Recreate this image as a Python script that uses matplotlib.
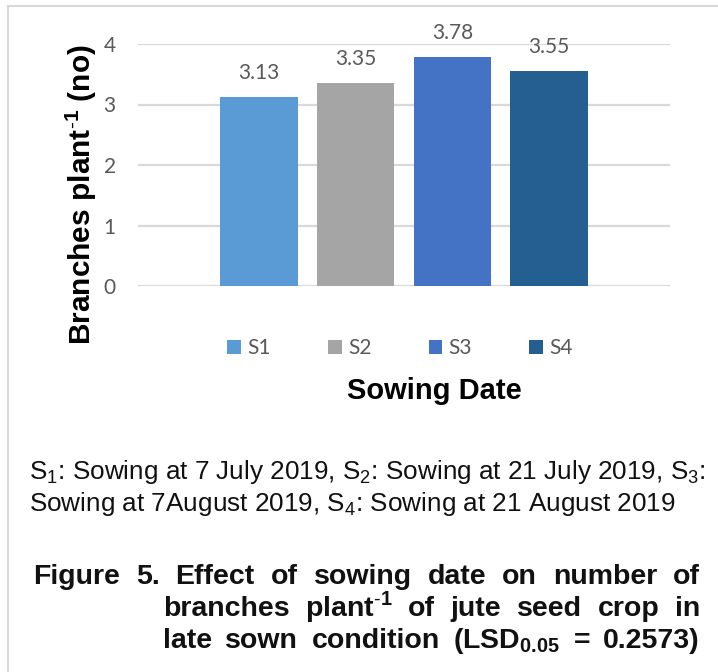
import matplotlib

matplotlib.use("Agg")
import matplotlib.pyplot as plt  # noqa: E402
from matplotlib.lines import Line2D  # noqa: E402
from matplotlib.patches import Patch  # noqa: E402

series = ["S1", "S2", "S3", "S4"]
branches = [3.13, 3.35, 3.78, 3.55]
bar_colors = ["#5B9BD5", "#A5A5A5", "#4472C4", "#255E91"]
y_ticks = [0, 1, 2, 3, 4]

caption_lines = [
    "S$_1$: Sowing at 7 July 2019, S$_2$: Sowing at 21 July 2019, S$_3$:",
    "Sowing at 7August 2019, S$_4$: Sowing at 21 August 2019",
]
title_lines = [
    "Figure 5. Effect of sowing date on number of",
    r"branches plant$^{\mathbf{\text{-}1}}$ of jute seed crop in",
    r"late sown condition (LSD$_{\mathbf{0.05}}$ = 0.2573)",
]

CHART_FONT = ["Lato", "DejaVu Sans"]
ARIAL = ["Liberation Sans", "DejaVu Sans"]
GREY_TEXT = "#595959"

plt.rcParams["mathtext.fontset"] = "custom"
plt.rcParams["mathtext.rm"] = "Liberation Sans"
plt.rcParams["mathtext.bf"] = "Liberation Sans:bold"

W, H = 718, 672
fig = plt.figure(figsize=(W / 100, H / 100), dpi=100)


def fx(px):
    return px / W


def fy(py):
    return 1 - py / H


# thin frame round the figure panel
fig.add_artist(Line2D([fx(8), fx(8)], [0, fy(6)], color="#D9D9D9", lw=1.5))
fig.add_artist(Line2D([fx(8), 1], [fy(6), fy(6)], color="#D9D9D9", lw=1.5))

ax = fig.add_axes([fx(138), fy(286), fx(670) - fx(138), fy(44) - fy(286)])
positions = list(range(len(series)))
bars = ax.bar(positions, branches, width=0.8, color=bar_colors, zorder=3)
ax.set_xlim(-1.25, 4.25)
ax.set_ylim(0, 4)
ax.set_yticks(y_ticks)
ax.set_xticks([])
ax.grid(axis="y", color="#D9D9D9", lw=1.6, zorder=0)
ax.set_axisbelow(True)
for spine in ax.spines.values():
    spine.set_visible(False)
ax.tick_params(axis="y", length=0, pad=16, labelcolor=GREY_TEXT)
for lbl in ax.get_yticklabels():
    lbl.set_fontfamily(CHART_FONT)
    lbl.set_fontsize(15)

for bar, val in zip(bars, branches):
    ax.annotate(f"{val:.2f}", (bar.get_x() + bar.get_width() / 2, val),
                xytext=(0, 10), textcoords="offset points", ha="center",
                va="bottom", fontsize=15, family=CHART_FONT, color=GREY_TEXT,
                annotation_clip=False)

fig.text(fx(81), fy(195), r"Branches plant$^{\mathbf{\text{-}1}}$ (no)",
         rotation=90, ha="center", va="center", fontsize=21.5,
         fontweight="bold", family=ARIAL)

handles = [Patch(facecolor=c, edgecolor="none") for c in bar_colors]
fig.legend(handles, series, loc="center", bbox_to_anchor=(fx(400), fy(348.5)),
           ncol=4, frameon=False, handlelength=0.65, handleheight=0.65,
           handletextpad=0.3, columnspacing=2.75,
           prop={"family": CHART_FONT, "size": 15}, labelcolor=GREY_TEXT)

fig.text(fx(434.5), fy(391), "Sowing Date", ha="center", va="center",
         fontsize=21, fontweight="bold", family=ARIAL)

for i, line in enumerate(caption_lines):
    fig.text(fx(29), fy(479 + 32 * i), line, ha="left", va="baseline",
             fontsize=18.8, family=ARIAL, color="#111111")


def justify(words, left, right, base, **kw):
    texts = [fig.text(fx(left), fy(base), w, ha="left", va="baseline", **kw)
             for w in words]
    renderer = fig.canvas.get_renderer()
    widths = [t.get_window_extent(renderer).width for t in texts]
    gap = (right - left - sum(widths)) / (len(words) - 1)
    x = left
    for t, w in zip(texts, widths):
        t.set_x(fx(x))
        x += w + gap


title_box = [(33, 700, 584), (163, 700, 616), (163, 700, 648)]
for line, (left, right, base) in zip(title_lines, title_box):
    # keep math pieces such as $^{...}$ glued to the word before them
    words = []
    for part in line.split(" "):
        if words and words[-1].count("$") % 2:
            words[-1] += " " + part
        else:
            words.append(part)
    justify(words, left, right, base, fontsize=20.5, fontweight="bold",
            family=ARIAL, color="#111111")

fig.savefig("out.png", dpi=100)
